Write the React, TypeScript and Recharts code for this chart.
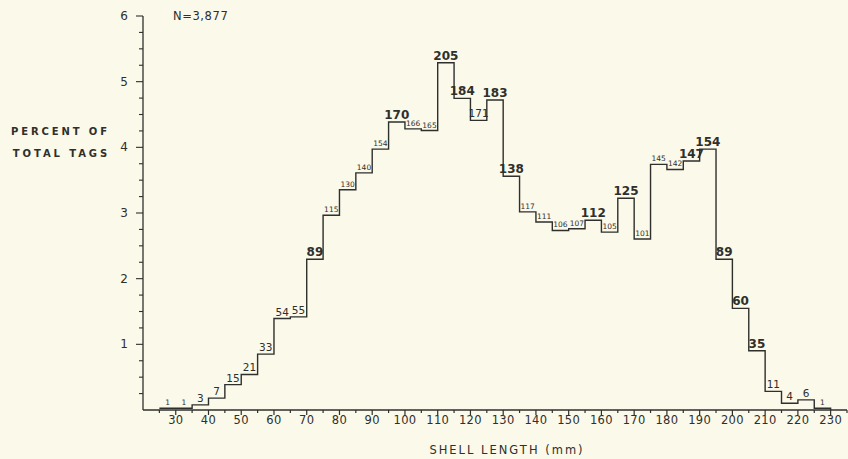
import { LineChart, Line, XAxis, YAxis, LabelList } from 'recharts';

const N_TOTAL = 3877;

// left edge of each 5 mm shell-length class
const BIN_START = [
  25, 30, 35, 40, 45, 50, 55, 60, 65, 70, 75, 80, 85, 90, 95, 100, 105, 110, 115, 120,
  125, 130, 135, 140, 145, 150, 155, 160, 165, 170, 175, 180, 185, 190, 195, 200, 205,
  210, 215, 220, 225,
];

// number of tags in each class
const TAG_COUNTS = [
  1, 1, 3, 7, 15, 21, 33, 54, 55, 89, 115, 130, 140, 154, 170, 166, 165, 205, 184, 171,
  183, 138, 117, 111, 106, 107, 112, 105, 125, 101, 145, 142, 147, 154, 89, 60, 35, 11,
  4, 6, 1,
];

const X_MAJOR_TICKS = [
  30, 40, 50, 60, 70, 80, 90, 100, 110, 120, 130, 140, 150, 160, 170, 180, 190, 200,
  210, 220, 230,
];
const X_MINOR_TICKS = [
  25, 35, 45, 55, 65, 75, 85, 95, 105, 115, 125, 135, 145, 155, 165, 175, 185, 195, 205,
  215, 225, 235,
];
const Y_TICKS = [
  0, 0.25, 0.5, 0.75, 1, 1.25, 1.5, 1.75, 2, 2.25, 2.5, 2.75, 3, 3.25, 3.5, 3.75, 4,
  4.25, 4.5, 4.75, 5, 5.25, 5.5, 5.75, 6,
];
const Y_LABELS = [1, 2, 3, 4, 5, 6];

// how the count over each class was lettered (by class start)
const BIG_LABELS = new Set([70, 95, 110, 115, 125, 130, 155, 165, 185, 190, 195, 200, 205]);
const SMALL_LABELS = new Set([
  25, 30, 75, 80, 85, 90, 100, 105, 135, 140, 145, 150, 160, 170, 175, 180, 225,
]);

const INK = '#2f2f2c';
const PAPER = '#fbf9ea';
const FONT = '"DejaVu Sans", sans-serif';

const stepData = [
  ...BIN_START.map((start, i) => ({ len: start, pct: (TAG_COUNTS[i] / N_TOTAL) * 100 })),
  { len: BIN_START[BIN_START.length - 1] + 5, pct: 0 },
];

const labelData = BIN_START.map((start, i) => ({
  len: start + 2.5,
  start,
  count: TAG_COUNTS[i],
  pct: (TAG_COUNTS[i] / N_TOTAL) * 100,
}));

const XTick = (props: any) => {
  const { x, y, payload } = props;
  const v = payload.value;
  const major = X_MAJOR_TICKS.includes(v);
  return (
    <g>
      <line x1={x} x2={x} y1={y} y2={y + (major ? 5 : 3)} stroke={INK} strokeWidth={1.2} />
      {major && (
        <text
          x={x}
          y={y + 14}
          textAnchor="middle"
          fontSize={11.5}
          fontFamily={FONT}
          fill={INK}
          letterSpacing={0.3}
        >
          {v}
        </text>
      )}
    </g>
  );
};

const YTick = (props: any) => {
  const { x, y, payload } = props;
  const v = payload.value;
  const major = Y_LABELS.includes(v);
  if (v === 0) return null;
  return (
    <g>
      <line x1={x - (major ? 7 : 4)} x2={x} y1={y} y2={y} stroke={INK} strokeWidth={1.1} />
      {major && (
        <text
          x={x - 15}
          y={y + 4}
          textAnchor="end"
          fontSize={12}
          fontFamily={FONT}
          fill={INK}
        >
          {v}
        </text>
      )}
    </g>
  );
};

const CountLabel = (props: any) => {
  const { x, y, value, index } = props;
  const start = labelData[index]?.start;
  const big = BIG_LABELS.has(start);
  const small = SMALL_LABELS.has(start);
  return (
    <text
      x={x}
      y={y - 3}
      textAnchor="middle"
      fontSize={big ? 12 : small ? 7.5 : 10.5}
      fontWeight={big ? 600 : 400}
      fontFamily={FONT}
      fill={INK}
    >
      {value}
    </text>
  );
};

export default function App() {
  return (
    <div
      style={{
        position: 'absolute',
        left: 0,
        top: 0,
        width: 848,
        height: 459,
        background: PAPER,
        fontFamily: FONT,
        color: INK,
      }}
    >
      <LineChart
        width={848}
        height={459}
        data={stepData}
        margin={{ top: 16, right: 1, bottom: 9, left: 113 }}
      >
        <XAxis
          dataKey="len"
          type="number"
          domain={[20, 235]}
          allowDataOverflow
          ticks={[...X_MINOR_TICKS, ...X_MAJOR_TICKS].sort((a, b) => a - b)}
          interval={0}
          tick={<XTick />}
          tickLine={false}
          tickSize={0}
          tickMargin={0}
          height={40}
          axisLine={{ stroke: INK, strokeWidth: 1.3 }}
        />
        <YAxis
          type="number"
          domain={[0, 6]}
          ticks={Y_TICKS}
          interval={0}
          tick={<YTick />}
          tickLine={false}
          tickSize={0}
          tickMargin={0}
          width={30}
          axisLine={{ stroke: INK, strokeWidth: 1.3 }}
        />
        <Line
          type="stepAfter"
          dataKey="pct"
          stroke={INK}
          strokeWidth={1.4}
          dot={false}
          isAnimationActive={false}
        />
        <Line
          data={labelData}
          dataKey="pct"
          stroke="none"
          dot={false}
          isAnimationActive={false}
        >
          <LabelList dataKey="count" content={<CountLabel />} />
        </Line>
      </LineChart>

      <div
        style={{
          position: 'absolute',
          left: 4,
          top: 121,
          width: 106,
          fontSize: 10,
          fontWeight: 600,
          letterSpacing: 2.9,
          lineHeight: '22px',
          textAlign: 'right',
          whiteSpace: 'nowrap',
        }}
      >
        <div>PERCENT OF</div>
        <div>TOTAL TAGS</div>
      </div>

      <div
        style={{
          position: 'absolute',
          left: 173,
          top: 9,
          fontSize: 11.5,
          letterSpacing: 0.6,
          whiteSpace: 'nowrap',
        }}
      >
        N=3,877
      </div>

      <div
        style={{
          position: 'absolute',
          left: 0,
          width: 1014,
          top: 443,
          textAlign: 'center',
          fontSize: 11.5,
          letterSpacing: 2,
          whiteSpace: 'nowrap',
        }}
      >
        SHELL LENGTH (mm)
      </div>
    </div>
  );
}
